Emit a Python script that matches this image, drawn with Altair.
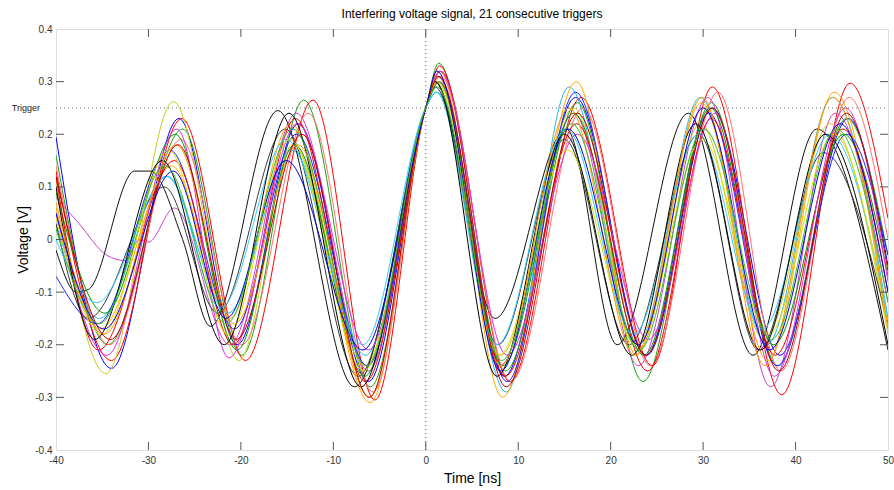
import altair as alt
import pandas as pd

TITLE = "Interfering voltage signal, 21 consecutive triggers"
X_TITLE = "Time [ns]"
Y_TITLE = "Voltage [V]"
X_TICKS = [-40, -30, -20, -10, 0, 10, 20, 30, 40, 50]
Y_TICKS = [-0.4, -0.3, -0.2, -0.1, 0, 0.1, 0.2, 0.3, 0.4]
TRIGGER_LEVEL = [0.25]
TRIGGER_LABEL = ["Trigger"]
TRIGGER_TIME = [0]

# --- 21 traces: (time [ns], voltage [V]) ---
t01 = [-40, -34.0, -26.7, -20.4, -13.8, -6.2, 0, 1.3, 8.5, 16.2, 23.9, 31.0, 38.3, 45.7, 50]
v01 = [0.195, -0.245, 0.23, -0.2, 0.22, -0.27, 0.25, 0.31, -0.26, 0.27, -0.22, 0.25, -0.22, 0.23, -0.05]
t02 = [-40, -34.4, -26.3, -19.9, -13.2, -6.0, 0, 1.4, 8.6, 16.4, 23.5, 30.9, 38.1, 45.5, 50]
v02 = [0.16, -0.2, 0.21, -0.22, 0.265, -0.28, 0.25, 0.335, -0.25, 0.26, -0.27, 0.26, -0.24, 0.23, -0.03]
t03 = [-40, -34.0, -26.4, -19.5, -12.2, -5.5, 0, 1.6, 9.1, 16.8, 24.5, 31.0, 38.5, 45.9, 50]
v03 = [0.13, -0.23, 0.23, -0.23, 0.265, -0.305, 0.25, 0.32, -0.27, 0.27, -0.24, 0.29, -0.295, 0.297, 0.04]
t04 = [-40, -35.3, -28.1, -21.4, -14.5, -6.5, 0, 1.2, 8.7, 15.5, 22.9, 29.7, 36.9, 44.0, 50]
v04 = [0.03, -0.15, 0.12, -0.14, 0.17, -0.22, 0.25, 0.28, -0.29, 0.29, -0.2, 0.27, -0.2, 0.27, -0.15]
t05 = [-40, -37.5, -34.5, -32.5, -31.0, -30.0, -27.2, -21.2, -14.0, -6.2, 0, 1.5, 8.0, 16.0, 23.0, 30.5, 37.3, 44.3, 50]
v05 = [0.08, 0.03, -0.03, -0.04, 0.0, -0.005, 0.06, -0.2, 0.24, -0.25, 0.25, 0.30, -0.24, 0.24, -0.24, 0.27, -0.28, 0.24, -0.12]
t06 = [-40, -34.6, -27.3, -20.2, -14.4, -6.6, 0, 1.3, 8.1, 16.0, 23.0, 29.7, 36.6, 43.7, 50]
v06 = [0.11, -0.255, 0.262, -0.23, 0.18, -0.24, 0.25, 0.30, -0.22, 0.25, -0.21, 0.22, -0.19, 0.22, -0.18]
t07 = [-40, -37.8, -36.5, -31.5, -29.8, -26.3, -23.3, -16.0, -7.7, 0, 1.0, 7.5, 15.2, 20.7, 28.4, 35.4, 42.3, 50]
v07 = [-0.02, -0.10, -0.095, 0.13, 0.13, 0.0, -0.165, 0.245, -0.28, 0.25, 0.30, -0.15, 0.21, -0.2, 0.24, -0.22, 0.21, -0.21]
t08 = [-40, -36.5, -28.3, -22.5, -15.2, -7.3, 0, 1.0, 7.8, 15.0, 22.0, 29.5, 36.0, 43.0, 50]
v08 = [0.03, -0.15, 0.10, -0.14, 0.21, -0.26, 0.25, 0.29, -0.2, 0.19, -0.2, 0.2, -0.21, 0.165, -0.16]
t09 = [-40, -35.2, -27.5, -21.2, -14.6, -6.0, 0, 1.5, 8.3, 16.3, 22.8, 29.8, 37.0, 44.2, 50]
v09 = [0.06, -0.17, 0.14, -0.15, 0.22, -0.31, 0.25, 0.32, -0.30, 0.30, -0.22, 0.26, -0.23, 0.28, -0.17]
t10 = [-40, -34.2, -26.5, -19.9, -12.7, -5.7, 0, 1.6, 9.2, 17.0, 24.3, 31.6, 38.4, 45.8, 50]
v10 = [0.14, -0.2, 0.19, -0.2, 0.24, -0.29, 0.25, 0.31, -0.27, 0.25, -0.24, 0.28, -0.25, 0.27, 0.0]
t11 = [-40, -35.5, -27.7, -20.7, -14.0, -6.3, 0, 1.3, 8.8, 16.2, 23.8, 30.6, 38.0, 45.5, 50]
v11 = [-0.07, -0.16, 0.17, -0.17, 0.2, -0.24, 0.25, 0.31, -0.27, 0.28, -0.22, 0.24, -0.24, 0.2, -0.03]
t12 = [-40, -34.7, -27.1, -20.4, -14.2, -6.6, 0, 1.4, 8.3, 16.0, 23.6, 30.8, 37.6, 45.2, 50]
v12 = [0.09, -0.14, 0.2, -0.21, 0.18, -0.26, 0.25, 0.30, -0.24, 0.24, -0.22, 0.25, -0.2, 0.2, -0.07]
t13 = [-40, -35.4, -27.2, -20.8, -14.1, -6.5, 0, 1.5, 8.6, 16.3, 24.0, 30.9, 37.8, 45.1, 50]
v13 = [0.12, -0.21, 0.15, -0.2, 0.23, -0.27, 0.25, 0.33, -0.26, 0.22, -0.25, 0.23, -0.22, 0.21, -0.1]
t14 = [-40, -35.6, -27.9, -22.2, -15.1, -6.8, 0, 1.1, 7.7, 15.2, 22.5, 29.5, 36.4, 43.7, 50]
v14 = [0.0, -0.12, 0.12, -0.13, 0.19, -0.2, 0.25, 0.28, -0.2, 0.21, -0.18, 0.2, -0.17, 0.2, -0.15]
t15 = [-40, -34.5, -26.9, -21.3, -13.9, -6.2, 0, 1.5, 8.8, 16.4, 24.1, 31.3, 37.7, 45.4, 50]
v15 = [0.05, -0.22, 0.21, -0.225, 0.22, -0.21, 0.25, 0.32, -0.22, 0.2, -0.19, 0.24, -0.26, 0.25, -0.08]
t16 = [-40, -35.0, -27.8, -21.4, -14.7, -6.7, 0, 1.2, 7.9, 15.3, 22.8, 29.9, 37.1, 44.1, 50]
v16 = [0.04, -0.18, 0.17, -0.18, 0.19, -0.25, 0.25, 0.30, -0.22, 0.17, -0.2, 0.19, -0.18, 0.2, -0.17]
t17 = [-40, -35.8, -28.5, -21.8, -14.8, -7.0, 0, 1.0, 7.7, 15.0, 22.3, 29.2, 36.2, 43.2, 50]
v17 = [0.1, -0.19, 0.15, -0.2, 0.24, -0.28, 0.25, 0.30, -0.26, 0.2, -0.22, 0.22, -0.21, 0.2, -0.2]
t18 = [-40, -34.8, -27.0, -20.7, -13.8, -6.1, 0, 1.3, 8.1, 15.5, 22.6, 29.9, 36.7, 44.0, 50]
v18 = [0.07, -0.18, 0.18, -0.16, 0.18, -0.30, 0.25, 0.31, -0.24, 0.25, -0.22, 0.27, -0.24, 0.27, -0.17]
t19 = [-40, -34.1, -26.8, -20.5, -13.4, -6.1, 0, 1.4, 8.7, 16.4, 23.8, 31.0, 38.2, 45.5, 50]
v19 = [0.12, -0.19, 0.18, -0.19, 0.2, -0.30, 0.25, 0.31, -0.28, 0.24, -0.22, 0.25, -0.25, 0.24, -0.06]
t20 = [-40, -34.8, -27.3, -21.6, -15.1, -6.8, 0, 1.2, 8.1, 15.4, 23.0, 30.0, 37.2, 44.8, 50]
v20 = [0.05, -0.17, 0.13, -0.15, 0.15, -0.21, 0.25, 0.32, -0.25, 0.21, -0.2, 0.25, -0.21, 0.22, -0.1]
t21 = [-40, -35.3, -28.2, -21.6, -14.4, -6.4, 0, 1.2, 8.2, 15.8, 23.1, 30.1, 37.4, 44.4, 50]
v21 = [0.02, -0.16, 0.14, -0.16, 0.21, -0.24, 0.25, 0.29, -0.23, 0.22, -0.21, 0.21, -0.19, 0.21, -0.12]

TRACE_NAMES = ["trigger %02d" % i for i in range(1, 22)]
TRACE_COLORS = ["#0000ff", "#1aa31a", "#ff0000", "#22bbee", "#cc44cc", "#cccc22", "#111111",
                "#3a3a3a", "#ffaa00", "#ff7070", "#2222ff", "#009900", "#ee0000", "#33ccff",
                "#dd33dd", "#dddd00", "#000000", "#ff9900", "#bb0000", "#0000dd", "#33bb33"]
TRACE_T = [t01, t02, t03, t04, t05, t06, t07, t08, t09, t10, t11, t12, t13, t14, t15, t16, t17, t18, t19, t20, t21]
TRACE_V = [v01, v02, v03, v04, v05, v06, v07, v08, v09, v10, v11, v12, v13, v14, v15, v16, v17, v18, v19, v20, v21]

rows = []
for name, ts, vs in zip(TRACE_NAMES, TRACE_T, TRACE_V):
    for t, v in zip(ts, vs):
        rows.append({"trace": name, "t": t, "v": v})
df = pd.DataFrame(rows)

W, H = 832, 421
FONT = "Liberation Sans"
FRAME = "#555555"

xs = alt.Scale(domain=[-40, 50], nice=False, zero=False)
ys = alt.Scale(domain=[-0.4, 0.4], nice=False, zero=False)

x_axis = alt.Axis(values=X_TICKS, title=X_TITLE, ticks=False, domain=False, grid=False,
                  labelPadding=5, labelFontSize=10, labelColor="#333333", labelFont=FONT,
                  labelFlush=False, labelOverlap=False,
                  titleFont=FONT, titleFontSize=14, titleFontWeight="normal", titleColor="#000000",
                  titleY=32, titleBaseline="alphabetic", labelExpr="'' + datum.value")
y_axis = alt.Axis(values=Y_TICKS, title=Y_TITLE, ticks=False, domain=False, grid=False,
                  labelPadding=4, labelFontSize=10, labelColor="#333333", labelFont=FONT,
                  labelFlush=False, labelOverlap=False,
                  titleFont=FONT, titleFontSize=14, titleFontWeight="normal", titleColor="#000000",
                  titleX=-29, titleY=H / 2, titleAngle=-90, titleBaseline="alphabetic",
                  labelExpr="'' + datum.value")

lines = alt.Chart(df).mark_line(strokeWidth=1, interpolate="monotone", clip=True).encode(
    x=alt.X("t:Q", scale=xs, axis=x_axis),
    y=alt.Y("v:Q", scale=ys, axis=y_axis),
    color=alt.Color("trace:N", scale=alt.Scale(domain=TRACE_NAMES, range=TRACE_COLORS), legend=None),
    order=alt.Order("t:Q"),
)

trig_df = pd.DataFrame({"v": TRIGGER_LEVEL, "label": TRIGGER_LABEL})
trig_rule = alt.Chart(trig_df).mark_rule(color="#666666", strokeWidth=1, strokeDash=[1, 3]).encode(
    y=alt.Y("v:Q", scale=ys), x=alt.value(0), x2=alt.value(W))
trig_text = alt.Chart(trig_df).mark_text(align="right", baseline="middle", fontSize=9, font=FONT,
                                         color="#222222").encode(
    y=alt.Y("v:Q", scale=ys), x=alt.value(-16), text="label:N")
zero_df = pd.DataFrame({"t": TRIGGER_TIME})
zero_rule = alt.Chart(zero_df).mark_rule(color="#666666", strokeWidth=1, strokeDash=[1, 3]).encode(
    x=alt.X("t:Q", scale=xs), y=alt.value(0), y2=alt.value(H))

xt_df = pd.DataFrame({"t": X_TICKS[1:-1]})
yt_df = pd.DataFrame({"v": Y_TICKS[1:-1]})
TL = 8
xt_bot = alt.Chart(xt_df).mark_rule(color=FRAME, strokeWidth=1).encode(
    x=alt.X("t:Q", scale=xs), y=alt.value(H), y2=alt.value(H - TL))
xt_top = alt.Chart(xt_df).mark_rule(color=FRAME, strokeWidth=1).encode(
    x=alt.X("t:Q", scale=xs), y=alt.value(0), y2=alt.value(TL))
yt_left = alt.Chart(yt_df).mark_rule(color=FRAME, strokeWidth=1).encode(
    y=alt.Y("v:Q", scale=ys), x=alt.value(0), x2=alt.value(TL))
yt_right = alt.Chart(yt_df).mark_rule(color=FRAME, strokeWidth=1).encode(
    y=alt.Y("v:Q", scale=ys), x=alt.value(W), x2=alt.value(W - TL))

chart = alt.layer(lines, trig_rule, zero_rule, xt_bot, xt_top, yt_left, yt_right, trig_text).properties(
    width=W, height=H,
    title=alt.TitleParams(TITLE, fontSize=12, font=FONT, fontWeight="normal", color="#000000",
                          anchor="middle", offset=3),
    autosize=alt.AutoSizeParams(type="none"),
    padding={"left": 56, "top": 29, "right": 6, "bottom": 40},
).configure_view(stroke=FRAME, strokeWidth=1).configure(background="white")

chart.save("out.html", embed_options={"renderer": "svg", "actions": False})
